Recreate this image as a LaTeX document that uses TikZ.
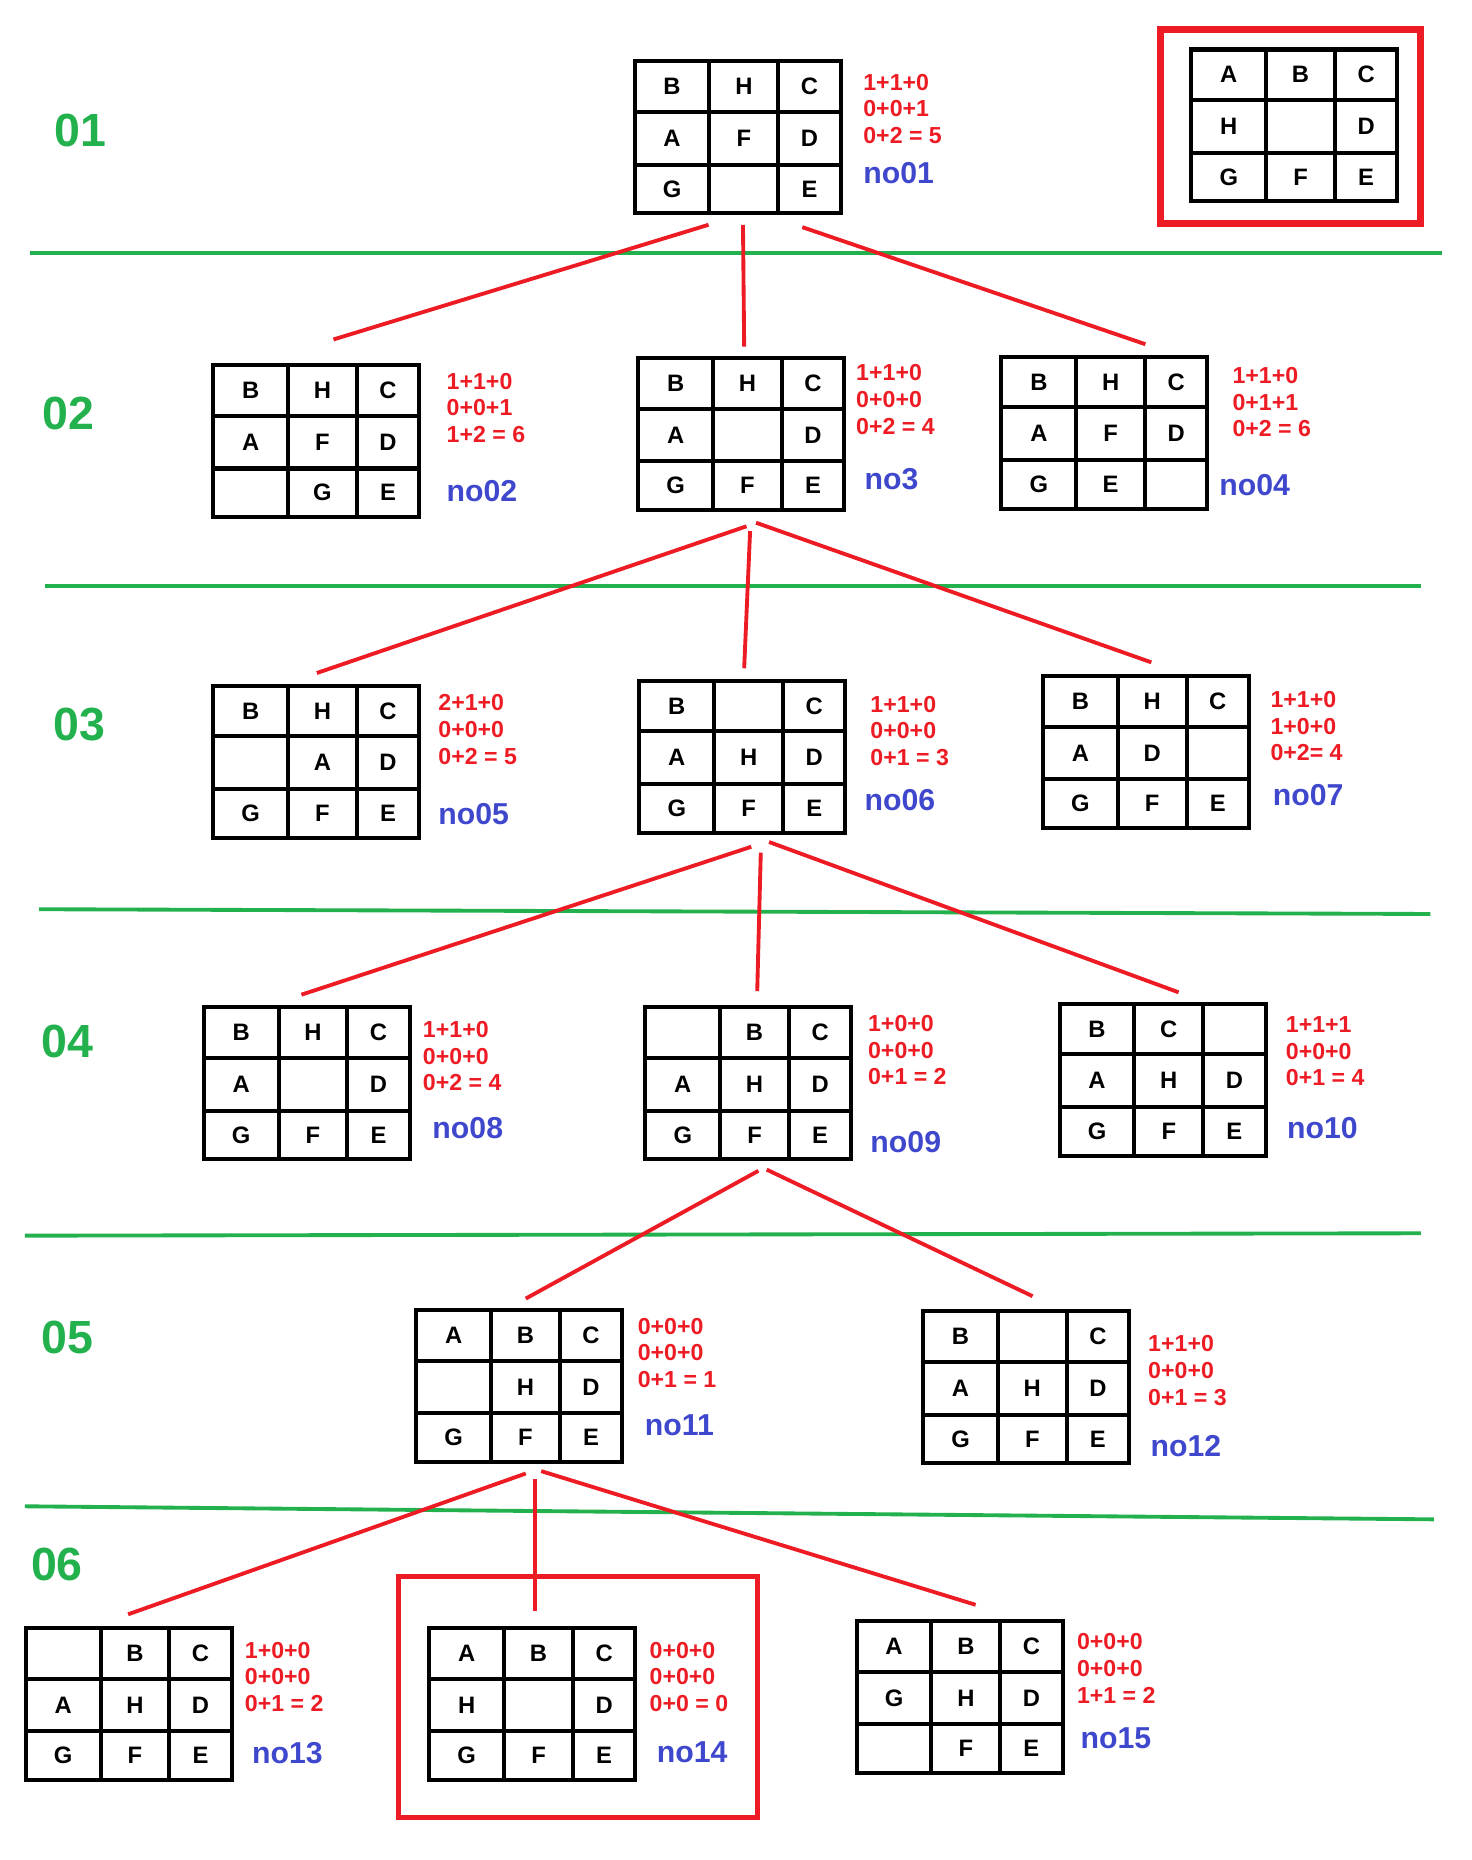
\documentclass[tikz,border=0pt]{standalone}
\usepackage{fontspec}
\setmainfont{Liberation Sans}
\usetikzlibrary{matrix,calc}
\definecolor{paintred}{RGB}{237,28,36}
\definecolor{paintblue}{RGB}{63,72,204}
\definecolor{paintgreen}{RGB}{34,177,76}
\tikzset{
	board/.style={
		matrix of nodes,
		nodes in empty cells,
		anchor=north west,
		inner sep=0pt, outer sep=0pt,
		column sep=-0.068cm, row sep=-0.068cm,
		nodes={draw, anchor=center, line width=0.068cm, inner sep=0pt, font=\fontsize{11.4}{12}\selectfont\bfseries},
		column 1/.style={nodes={minimum width=1.26cm}},
		column 2/.style={nodes={minimum width=1.16cm}},
		column 3/.style={nodes={minimum width=1.05cm}},
		row 1/.style={nodes={minimum height=0.85cm}},
		row 2/.style={nodes={minimum height=0.89cm}},
		row 3/.style={nodes={minimum height=0.82cm}}
	},
	cost/.style={anchor=north west, inner sep=0pt, align=left, text=paintred, font=\fontsize{11.1}{12.8}\selectfont\bfseries},
	tag/.style={anchor=west, inner sep=0pt, text=paintblue, font=\fontsize{14.5}{16}\selectfont\bfseries},
	level/.style={inner sep=0pt, text=paintgreen, font=\fontsize{22.3}{26}\selectfont\bfseries},
	edge/.style={draw=paintred, line width=0.065cm},
	sep/.style={draw=paintgreen, line width=0.065cm},
	goalbox/.style={draw=paintred, line width=0.12cm}
}
\begin{document}
\begin{tikzpicture}[x=0.02cm, y=-0.02cm]
	\useasboundingbox (0,0) rectangle (1240,1567);

	% levels
	\node[level] (l01) at (68,110) {01};
	\node[level] (l02) at (58,348) {02};
	\node[level] (l03) at (67,610) {03};
	\node[level] (l04) at (57,877) {04};
	\node[level] (l05) at (57,1127) {05};
	\node[level] (l06) at (48,1318) {06};

	\draw[sep] (25,213) -- (1215,213);
	\draw[sep] (38,494) -- (1197,494);
	\draw[sep] (33,766) -- (1205,770);
	\draw[sep] (21,1041) -- (1197,1039);
	\draw[sep] (21,1269) -- (1208,1280);

	% goal state
	\draw[goalbox] (978,25) rectangle (1197,188);
	\matrix[board] (ng) at (1002,40) {A & B & C\\ H & & D\\ G & F & E\\};

	% level 01
	\matrix[board] (n01) at (533,50) {B & H & C\\ A & F & D\\ G & & E\\};
	\node[cost] (c01) at (727,62) {1+1+0\\0+0+1\\0+2 = 5};
	\node[tag] (t01) at (727,146) {no01};

	% level 02
	\matrix[board] (n02) at (178,306) {B & H & C\\ A & F & D\\ & G & E\\};
	\node[cost] (c02) at (376,314) {1+1+0\\0+0+1\\1+2 = 6};
	\node[tag] (t02) at (376,414) {no02};
	\matrix[board] (n03) at (536,300) {B & H & C\\ A & & D\\ G & F & E\\};
	\node[cost] (c03) at (721,307) {1+1+0\\0+0+0\\0+2 = 4};
	\node[tag] (t03) at (728,404) {no3};
	\matrix[board] (n04) at (842,299) {B & H & C\\ A & F & D\\ G & E & \\};
	\node[cost] (c04) at (1038,309) {1+1+0\\0+1+1\\0+2 = 6};
	\node[tag] (t04) at (1027,409) {no04};

	% level 03
	\matrix[board] (n05) at (178,576) {B & H & C\\ & A & D\\ G & F & E\\};
	\node[cost] (c05) at (369,585) {2+1+0\\0+0+0\\0+2 = 5};
	\node[tag] (t05) at (369,686) {no05};
	\matrix[board] (n06) at (537,572) {B & & C\\ A & H & D\\ G & F & E\\};
	\node[cost] (c06) at (733,586) {1+1+0\\0+0+0\\0+1 = 3};
	\node[tag] (t06) at (728,674) {no06};
	\matrix[board] (n07) at (877,568) {B & H & C\\ A & D & \\ G & F & E\\};
	\node[cost] (c07) at (1070,582) {1+1+0\\1+0+0\\0+2= 4};
	\node[tag] (t07) at (1072,670) {no07};

	% level 04
	\matrix[board] (n08) at (170,847) {B & H & C\\ A & & D\\ G & F & E\\};
	\node[cost] (c08) at (356,860) {1+1+0\\0+0+0\\0+2 = 4};
	\node[tag] (t08) at (364,950) {no08};
	\matrix[board] (n09) at (542,847) { & B & C\\ A & H & D\\ G & F & E\\};
	\node[cost] (c09) at (731,855) {1+0+0\\0+0+0\\0+1 = 2};
	\node[tag] (t09) at (733,962) {no09};
	\matrix[board] (n10) at (891,844) {B & C & \\ A & H & D\\ G & F & E\\};
	\node[cost] (c10) at (1083,856) {1+1+1\\0+0+0\\0+1 = 4};
	\node[tag] (t10) at (1084,950) {no10};

	% level 05
	\matrix[board] (n11) at (349,1102) {A & B & C\\ & H & D\\ G & F & E\\};
	\node[cost] (c11) at (537,1110) {0+0+0\\0+0+0\\0+1 = 1};
	\node[tag] (t11) at (543,1201) {no11};
	\matrix[board] (n12) at (776,1103) {B & & C\\ A & H & D\\ G & F & E\\};
	\node[cost] (c12) at (967,1125) {1+1+0\\0+0+0\\0+1 = 3};
	\node[tag] (t12) at (969,1218) {no12};

	% level 06
	\matrix[board] (n13) at (20,1370) { & B & C\\ A & H & D\\ G & F & E\\};
	\node[cost] (c13) at (206,1383) {1+0+0\\0+0+0\\0+1 = 2};
	\node[tag] (t13) at (212,1477) {no13};
	\draw[goalbox, line width=0.085cm] (336,1328) rectangle (638,1531);
	\matrix[board] (n14) at (360,1370) {A & B & C\\ H & & D\\ G & F & E\\};
	\node[cost] (c14) at (547,1383) {0+0+0\\0+0+0\\0+0 = 0};
	\node[tag] (t14) at (553,1476) {no14};
	\matrix[board] (n15) at (720,1364) {A & B & C\\ G & H & D\\ & F & E\\};
	\node[cost] (c15) at (907,1376) {0+0+0\\0+0+0\\1+1 = 2};
	\node[tag] (t15) at (910,1464) {no15};

	% tree edges
	\draw[edge] ($(n01.south)+(-24.5,8)$) -- ($(n02.north)+(14.5,-20)$);
	\draw[edge] ($(n01.south)+(4.5,8)$) -- ($(n03.north)+(2.5,-8)$);
	\draw[edge] ($(n01.south)+(54.5,10)$) -- ($(n04.north)+(34.5,-9)$);
	\draw[edge] ($(n03.south)+(4.5,12)$) -- ($(n05.north)+(0.5,-9)$);
	\draw[edge] ($(n03.south)+(7.5,16)$) -- ($(n06.north)+(1.5,-9)$);
	\draw[edge] ($(n03.south)+(12.5,9)$) -- ($(n07.north)+(4.5,-10)$);
	\draw[edge] ($(n06.south)+(7.5,10)$) -- ($(n08.north)+(-4.5,-9)$);
	\draw[edge] ($(n06.south)+(15.5,15)$) -- ($(n09.north)+(7.5,-12)$);
	\draw[edge] ($(n06.south)+(22.5,6)$) -- ($(n10.north)+(13.5,-8)$);
	\draw[edge] ($(n09.south)+(8.5,8)$) -- ($(n11.north)+(5.5,-8)$);
	\draw[edge] ($(n09.south)+(15.5,7)$) -- ($(n12.north)+(5.5,-11)$);
	\draw[edge] ($(n11.south)+(5.5,8)$) -- ($(n13.north)+(-0.5,-10)$);
	\draw[edge] ($(n11.south)+(13.5,13)$) -- ($(n14.north)+(2.5,-13)$);
	\draw[edge] ($(n11.south)+(18.5,6)$) -- ($(n15.north)+(13.5,-12)$);
\end{tikzpicture}
\end{document}
